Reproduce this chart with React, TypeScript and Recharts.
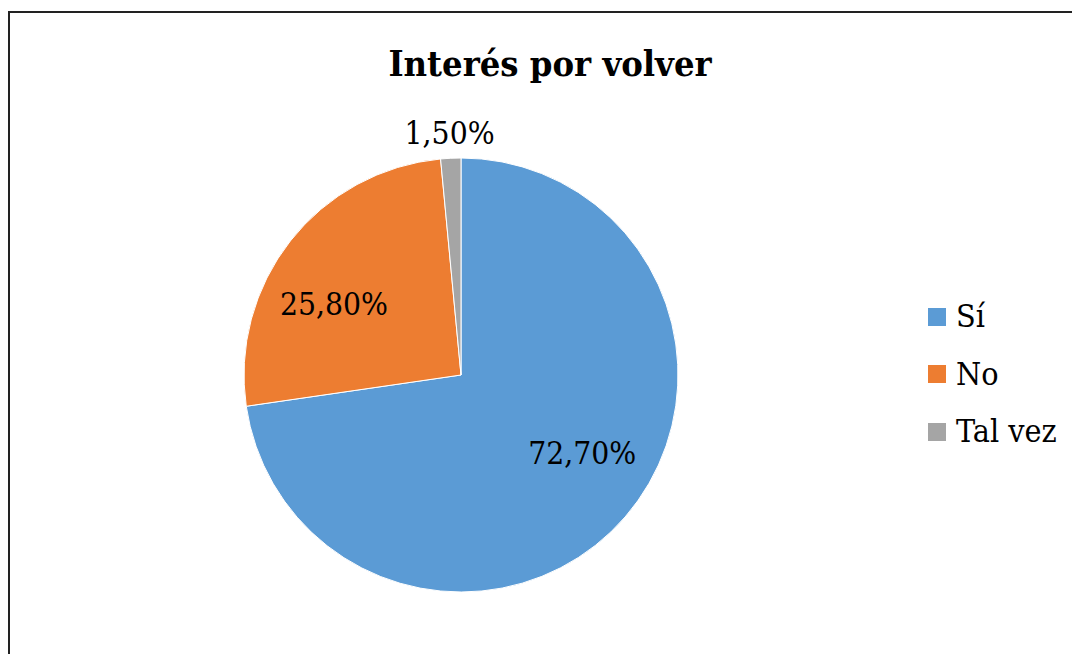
import React from "react";
import { PieChart, Pie, Cell, Legend } from "recharts";

const categories = ["Sí", "No", "Tal vez"];
const values = [72.7, 25.8, 1.5];
const valueLabels = ["72,70%", "25,80%", "1,50%"];
const colors = ["#5B9BD5", "#ED7D31", "#A5A5A5"];

const data = categories.map((name, i) => ({ name, value: values[i], label: valueLabels[i] }));

const FONT = "'DejaVu Serif Condensed', 'DejaVu Serif', serif";
const RAD = Math.PI / 180;

const labelStyle = [
  { rf: 0.665, shift: 8 },
  { rf: 0.67, shift: 9 },
  { rf: 1.115, shift: 0 },
];

const renderLabel = (props: any) => {
  const { cx, cy, midAngle, outerRadius, index } = props;
  const st = labelStyle[index];
  const a = (midAngle + st.shift) * RAD;
  const r = outerRadius * st.rf;
  const x = cx + r * Math.cos(a);
  const y = cy - r * Math.sin(a);
  return (
    <text
      x={x}
      y={y}
      textAnchor="middle"
      dominantBaseline="central"
      fill="#000"
      style={{ fontFamily: FONT, fontSize: 31.5 }}
    >
      {data[index].label}
    </text>
  );
};

const renderLegend = () => {
  return (
    <div style={{ fontFamily: FONT, fontSize: 32, color: "#000" }}>
      {categories.map((name, i) => (
        <div key={name} style={{ display: "flex", alignItems: "center", height: 57.5, lineHeight: "57.5px" }}>
          <span style={{ display: "inline-block", width: 18, height: 18, background: colors[i], marginRight: 10 }} />
          <span>{name}</span>
        </div>
      ))}
    </div>
  );
};

export default function App() {
  return (
    <div style={{ position: "relative", width: 1072, height: 646, overflow: "hidden", background: "#fff" }}>
      <div
        style={{
          position: "absolute",
          left: 0,
          top: 3,
          width: 1120,
          height: 700,
          border: "2px solid #222",
          boxSizing: "border-box",
        }}
      />
      <div
        style={{
          position: "absolute",
          left: 0,
          width: 1084,
          top: 34,
          textAlign: "center",
          fontFamily: FONT,
          fontWeight: "bold",
          fontSize: 36,
          lineHeight: "42px",
          color: "#000",
        }}
      >
        Interés por volver
      </div>
      <div style={{ position: "absolute", left: 0, top: 0 }}>
        <PieChart width={1072} height={646}>
          <Pie
            data={data}
            dataKey="value"
            nameKey="name"
            cx={448}
            cy={362}
            outerRadius={217}
            startAngle={90}
            endAngle={-270}
            stroke="#fff"
            strokeWidth={1}
            label={renderLabel}
            labelLine={false}
            isAnimationActive={false}
          >
            {data.map((d, i) => (
              <Cell key={d.name} fill={colors[i]} />
            ))}
          </Pie>
          <Legend
            layout="vertical"
            content={renderLegend}
            wrapperStyle={{ position: "absolute", left: 920, top: 280, width: 150 }}
          />
        </PieChart>
      </div>
    </div>
  );
}
